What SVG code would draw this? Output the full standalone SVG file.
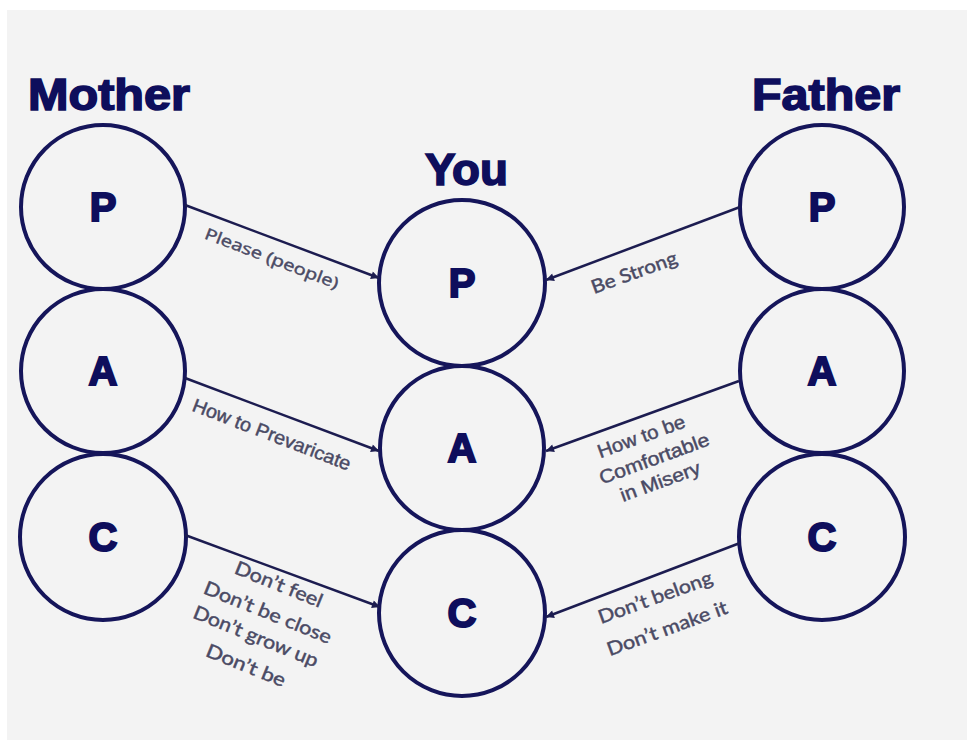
<svg xmlns="http://www.w3.org/2000/svg" width="967" height="749" viewBox="0 0 967 749">
<defs>
<marker id="arr" viewBox="0 0 10 10" refX="10" refY="5" markerWidth="9" markerHeight="8" markerUnits="userSpaceOnUse" orient="auto">
<path d="M0,0 L10,5 L0,10 z" fill="#1c1c50"/>
</marker>
</defs>
<style>
.bg{fill:#f3f3f3}
.title{font-family:"Liberation Sans",Arial,sans-serif;font-weight:bold;font-size:44px;fill:#0e0e5c;stroke:#0e0e5c;stroke-width:1.6}
.node circle{fill:none;stroke:#15155a;stroke-width:4}
.node text{font-family:"Liberation Sans",Arial,sans-serif;font-weight:bold;font-size:40px;fill:#0e0e5c;stroke:#0e0e5c;stroke-width:2;text-anchor:middle}
.conn line{stroke:#1c1c50;stroke-width:2.5;marker-end:url(#arr)}
.lbl{fill:#4a4a64;stroke:#4a4a64;stroke-width:0.45;text-anchor:middle}
.seg{font-family:"Open Sans","DejaVu Sans",sans-serif;font-size:16px}
.ari{font-family:"Liberation Sans",Arial,sans-serif;font-size:19px}
.cal{font-family:Lato,"Open Sans",sans-serif;font-size:19px}
</style>
<rect x="0" y="0" width="967" height="749" fill="#ffffff"/>
<rect class="bg" x="7" y="10" width="960" height="730"/>

<text class="title" x="28" y="110" textLength="162" lengthAdjust="spacingAndGlyphs">Mother</text>
<text class="title" x="752" y="110" textLength="148" lengthAdjust="spacingAndGlyphs">Father</text>
<text class="title" x="425" y="185" textLength="83" lengthAdjust="spacingAndGlyphs">You</text>

<g id="mother-p" class="node"><circle cx="103" cy="207" r="82"/><text x="103" y="221">P</text></g>
<g id="mother-a" class="node"><circle cx="103" cy="371" r="82"/><text x="103" y="385">A</text></g>
<g id="mother-c" class="node"><circle cx="103" cy="537" r="83"/><text x="103" y="551">C</text></g>

<g id="you-p" class="node"><circle cx="462" cy="283" r="83"/><text x="462" y="297">P</text></g>
<g id="you-a" class="node"><circle cx="462" cy="448" r="82"/><text x="462" y="462">A</text></g>
<g id="you-c" class="node"><circle cx="462" cy="613" r="83"/><text x="462" y="627">C</text></g>

<g id="father-p" class="node"><circle cx="822" cy="207" r="82"/><text x="822" y="221">P</text></g>
<g id="father-a" class="node"><circle cx="822" cy="371" r="82"/><text x="822" y="385">A</text></g>
<g id="father-c" class="node"><circle cx="822" cy="537" r="83"/><text x="822" y="551">C</text></g>

<g id="connectors" class="conn">
<line x1="185" y1="205" x2="379" y2="278"/>
<line x1="185" y1="378" x2="379" y2="451"/>
<line x1="185" y1="535" x2="380" y2="607"/>
<line x1="740" y1="207" x2="546" y2="280"/>
<line x1="739" y1="381" x2="546" y2="451"/>
<line x1="740" y1="543" x2="546" y2="617"/>
</g>

<g id="labels">
<text class="lbl seg" transform="translate(272,258) rotate(21)" y="6" textLength="142" lengthAdjust="spacingAndGlyphs">Please (people)</text>
<text class="lbl ari" transform="translate(272,434) rotate(21)" y="7" textLength="168" lengthAdjust="spacingAndGlyphs">How to Prevaricate</text>

<text class="lbl cal" transform="translate(279,584) rotate(22)" y="7" textLength="93" lengthAdjust="spacingAndGlyphs">Don’t feel</text>
<text class="lbl cal" transform="translate(268,612) rotate(22)" y="7" textLength="136" lengthAdjust="spacingAndGlyphs">Don’t be close</text>
<text class="lbl cal" transform="translate(256,636) rotate(22)" y="7" textLength="133" lengthAdjust="spacingAndGlyphs">Don’t grow up</text>
<text class="lbl cal" transform="translate(246,665) rotate(22)" y="7" textLength="84" lengthAdjust="spacingAndGlyphs">Don’t be</text>

<text class="lbl cal" transform="translate(634,272) rotate(-20)" y="7" textLength="90" lengthAdjust="spacingAndGlyphs">Be Strong</text>

<text class="lbl ari" transform="translate(641,436) rotate(-20)" y="7" textLength="92" lengthAdjust="spacingAndGlyphs">How to be</text>
<text class="lbl ari" transform="translate(654,458) rotate(-20)" y="7" textLength="116" lengthAdjust="spacingAndGlyphs">Comfortable</text>
<text class="lbl ari" transform="translate(660,481) rotate(-20)" y="7" textLength="84" lengthAdjust="spacingAndGlyphs">in Misery</text>

<text class="lbl cal" transform="translate(655,597) rotate(-20)" y="7" textLength="120" lengthAdjust="spacingAndGlyphs">Don’t belong</text>
<text class="lbl cal" transform="translate(667,628) rotate(-20)" y="7" textLength="127" lengthAdjust="spacingAndGlyphs">Don’t make it</text>
</g>
</svg>
